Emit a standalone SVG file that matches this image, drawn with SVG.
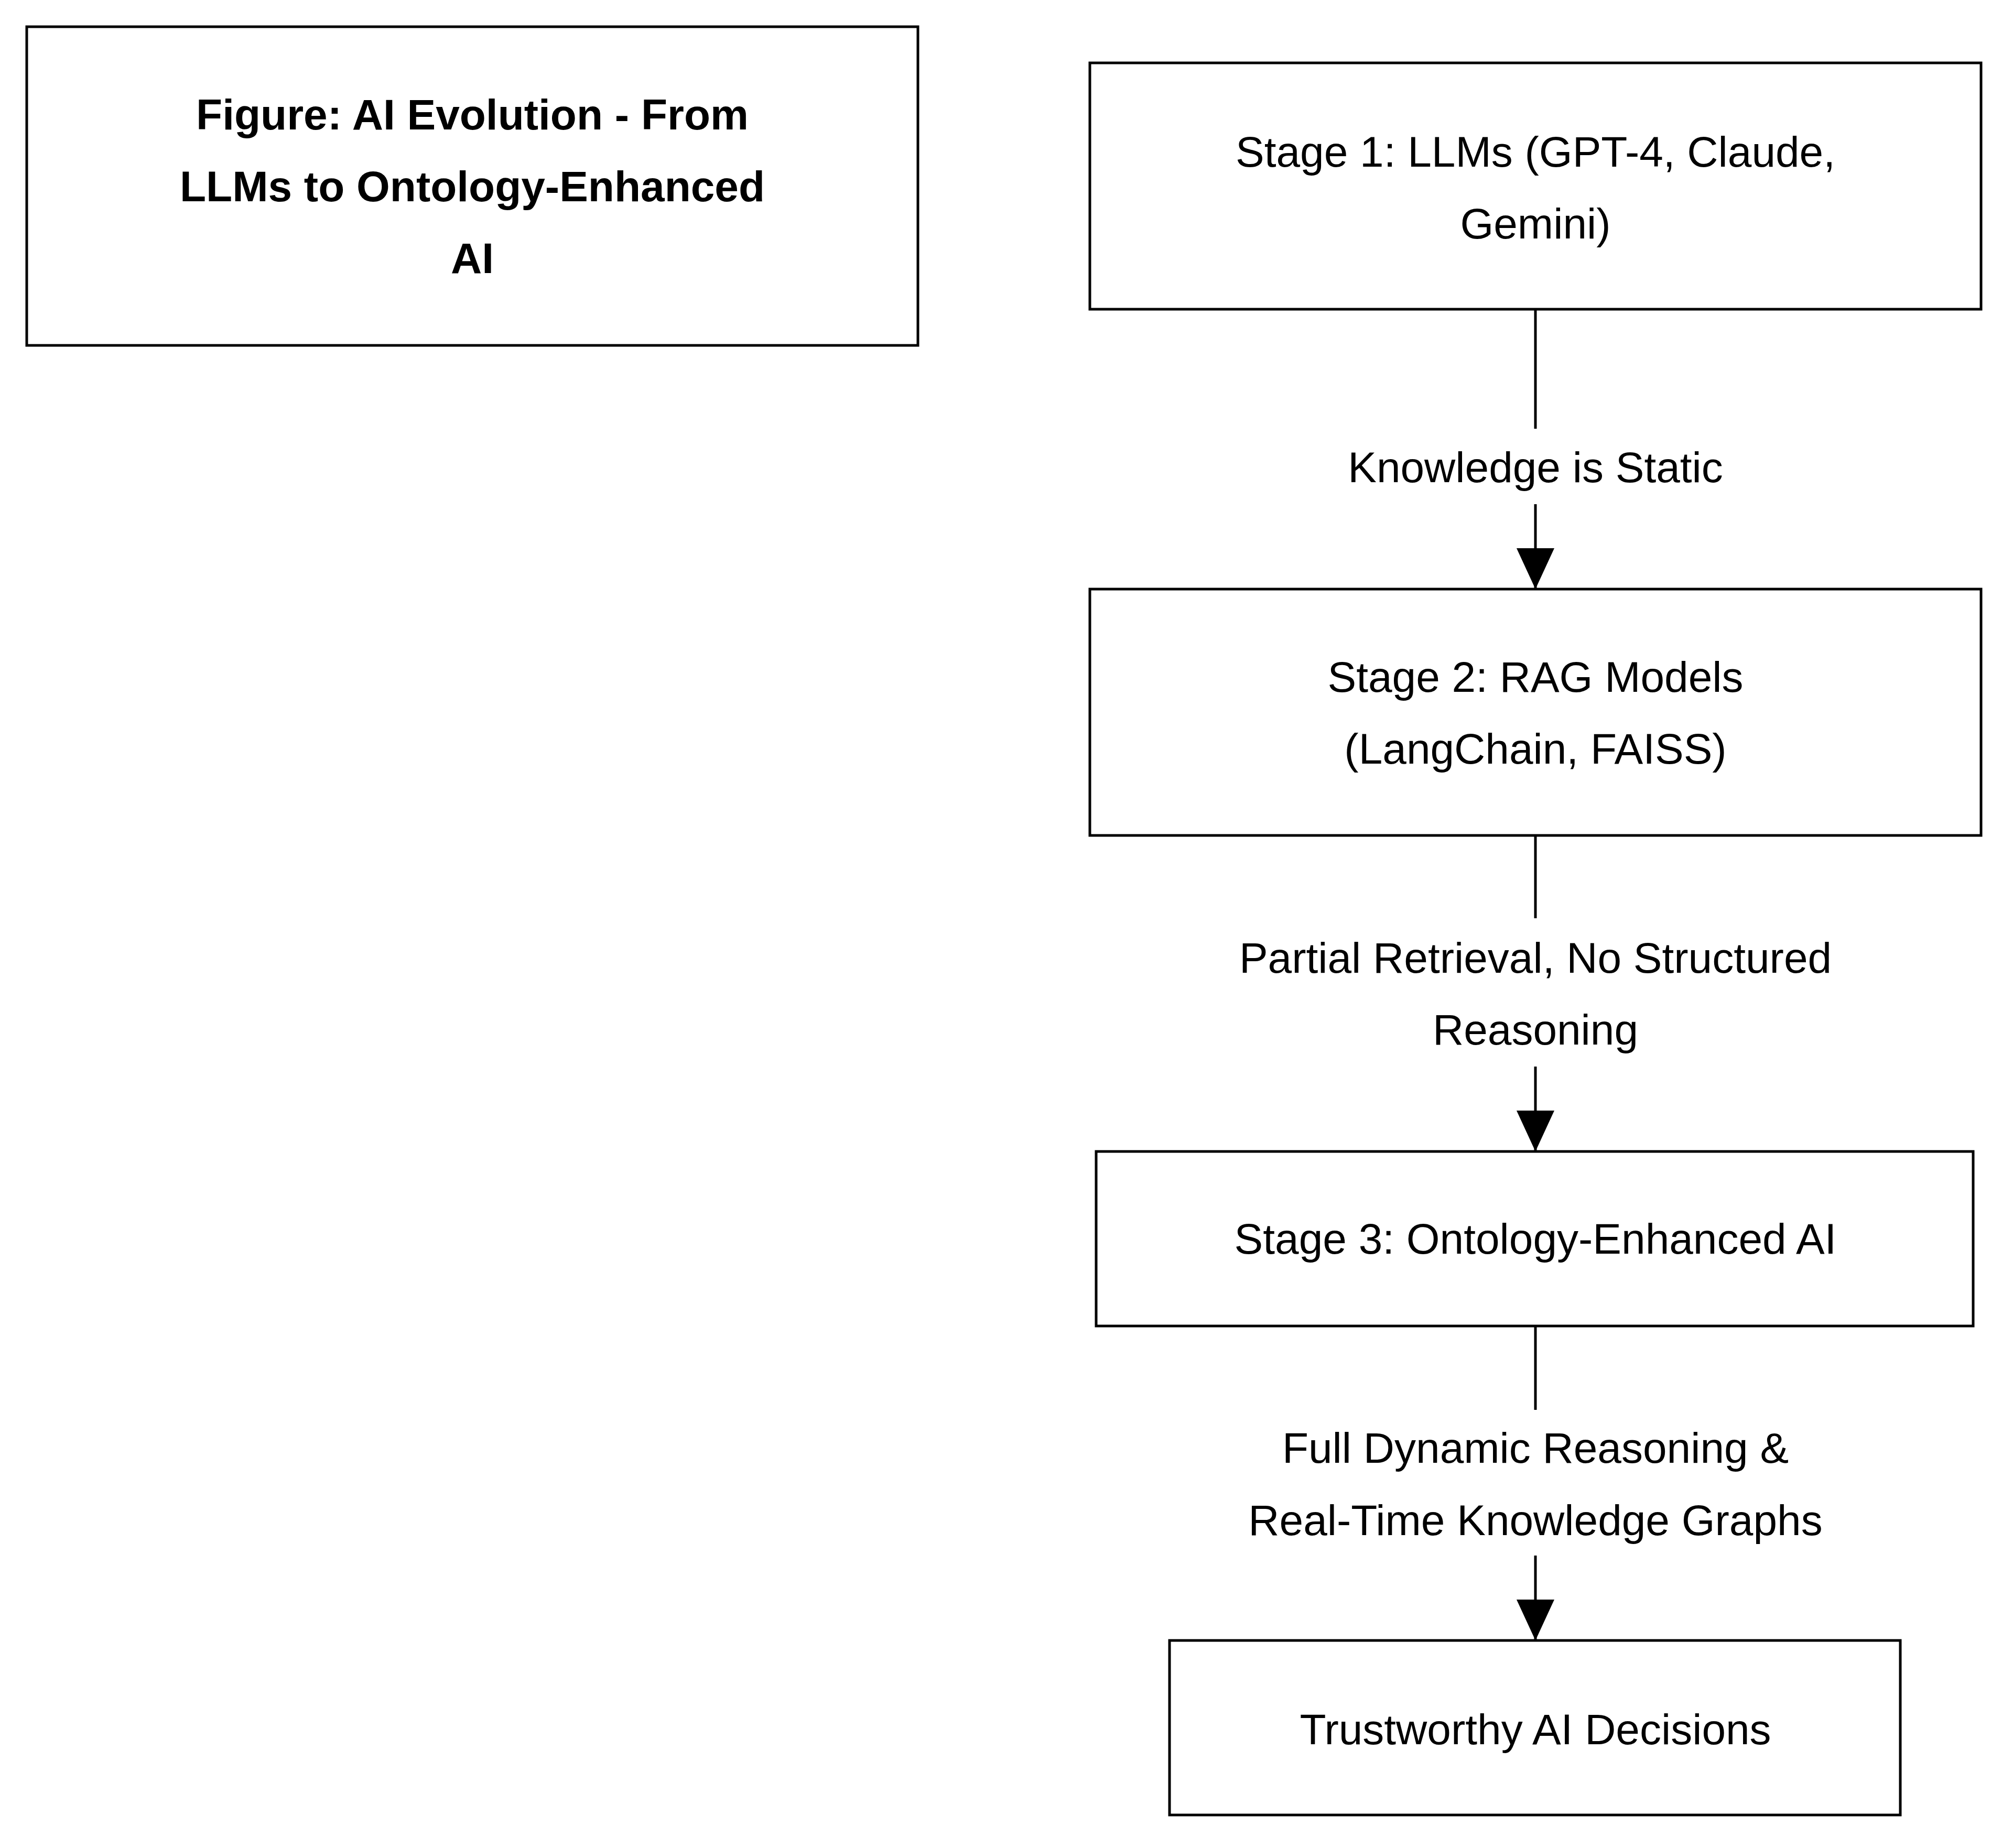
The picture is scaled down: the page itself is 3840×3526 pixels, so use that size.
<svg xmlns="http://www.w3.org/2000/svg" width="3840" height="3526" viewBox="0 0 3840 3526">
<style>
.box{fill:#fff;stroke:#000;stroke-width:5}
.t{font-family:"Liberation Sans",Arial,sans-serif;font-size:82px;fill:#000;text-anchor:middle;dominant-baseline:central}
.b{font-weight:bold}
.e{stroke:#000;stroke-width:5;fill:none}
</style>
<defs><marker id="a" markerUnits="userSpaceOnUse" markerWidth="80" markerHeight="72" refX="78" refY="36" orient="auto"><path d="M0,0 L78,36 L0,72 Z" fill="#000"/></marker></defs>
<rect width="3840" height="3526" fill="#fff"/>
<g id="title"><rect class="box" x="51" y="51" width="1700" height="608"/>
<text class="t b" x="901" y="218">Figure: AI Evolution - From</text>
<text class="t b" x="901" y="355">LLMs to Ontology-Enhanced</text>
<text class="t b" x="901" y="492">AI</text></g>
<g id="stage1"><rect class="box" x="2079" y="120" width="1700" height="470"/>
<text class="t" x="2929" y="289">Stage 1: LLMs (GPT-4, Claude,</text>
<text class="t" x="2929" y="426">Gemini)</text></g>
<g id="stage2"><rect class="box" x="2079" y="1124" width="1700" height="470"/>
<text class="t" x="2929" y="1291">Stage 2: RAG Models</text>
<text class="t" x="2929" y="1428">(LangChain, FAISS)</text></g>
<g id="stage3"><rect class="box" x="2091" y="2197" width="1673" height="333"/>
<text class="t" x="2929" y="2363">Stage 3: Ontology-Enhanced AI</text></g>
<g id="trust"><rect class="box" x="2231" y="3130" width="1394" height="333"/>
<text class="t" x="2929" y="3299">Trustworthy AI Decisions</text></g>
<g id="connectors">
<line class="e" x1="2929" y1="590" x2="2929" y2="818"/>
<line class="e" x1="2929" y1="962" x2="2929" y2="1124" marker-end="url(#a)"/>
<text class="t" x="2929" y="891">Knowledge is Static</text>
<line class="e" x1="2929" y1="1594" x2="2929" y2="1752"/>
<line class="e" x1="2929" y1="2035" x2="2929" y2="2197" marker-end="url(#a)"/>
<text class="t" x="2929" y="1827">Partial Retrieval, No Structured</text>
<text class="t" x="2929" y="1964">Reasoning</text>
<line class="e" x1="2929" y1="2530" x2="2929" y2="2690"/>
<line class="e" x1="2929" y1="2968" x2="2929" y2="3130" marker-end="url(#a)"/>
<text class="t" x="2929" y="2762">Full Dynamic Reasoning &amp;</text>
<text class="t" x="2929" y="2900">Real-Time Knowledge Graphs</text>
</g>
</svg>
